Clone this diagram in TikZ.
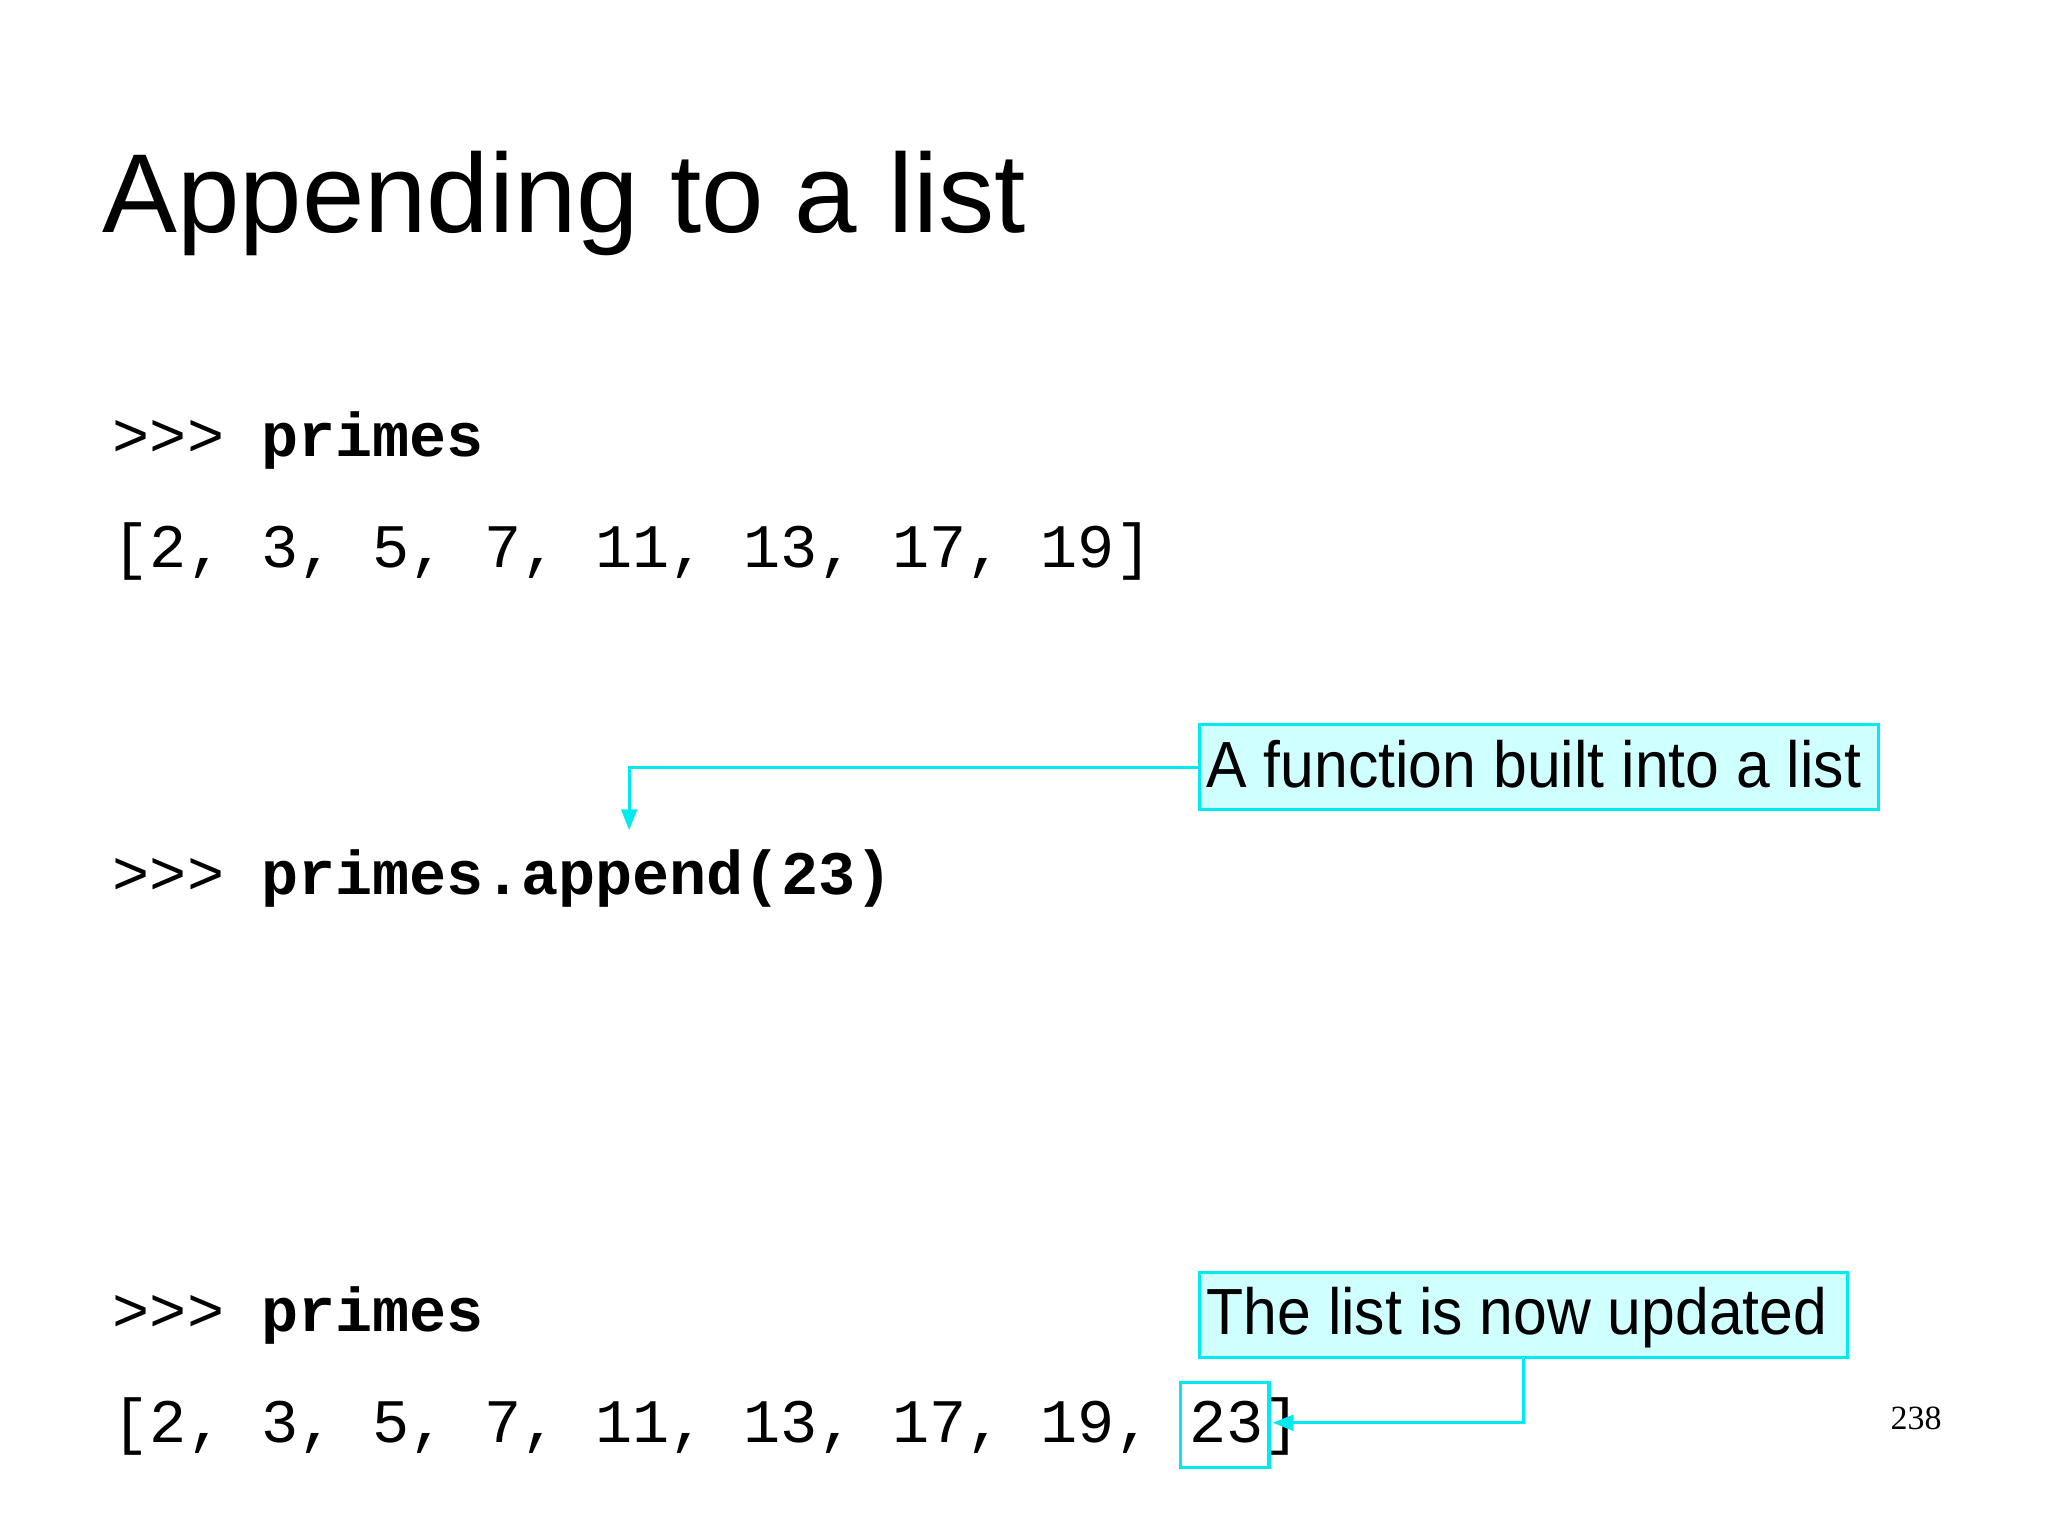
\documentclass[tikz,border=0pt]{standalone}
\usepackage{fontspec}
\setmainfont{Liberation Sans}
\newfontfamily\codefont{Liberation Mono}
\newfontfamily\serifpn{Liberation Serif}
\usetikzlibrary{arrows.meta}
\definecolor{cy}{RGB}{0,235,240}
\definecolor{cyfill}{RGB}{208,255,255}
\tikzset{
 code/.style={anchor=base west,inner sep=0pt,font=\codefont\fontsize{23.7}{26}\selectfont},
 note/.style={draw=cy,line width=1.2pt,fill=cyfill,anchor=north west,inner sep=0pt,minimum height=32.5pt},
 notetext/.style={anchor=base west,inner sep=0pt,font=\fontsize{25}{28}\selectfont},
 conn/.style={draw=cy,line width=1.2pt,-{Triangle[length=8pt,width=6pt]}}
}
\begin{document}
\begin{tikzpicture}[x=0.5pt,y=-0.5pt]
\useasboundingbox (0,0) rectangle (1569,1176);
\node[anchor=base west,inner sep=0pt,font=\fontsize{43}{48}\selectfont] (title) at (78,178) {Appending to a list};
\node[code] (c1) at (86,350) {>{}>{}> \textbf{primes}};
\node[code] (c2) at (86,435) {[2, 3, 5, 7, 11, 13, 17, 19]};
\node[code] (c3) at (86,685) {>{}>{}> \textbf{primes.append(23)}};
\node[code] (c4) at (86,1020) {>{}>{}> \textbf{primes}};
\node[code] (c5) at (86,1105) {[2, 3, 5, 7, 11, 13, 17, 19, 23]};
\node[note,minimum width=260pt] (n1) at (918,554) {};
\node[notetext] (t1) at (924,603) {\scalebox{0.93}[1]{A function built into a list}};
\node[note,minimum width=248pt] (n2) at (918,974) {};
\node[notetext] (t2) at (924,1022) {\scalebox{0.93}[1]{The list is now updated}};
\node[draw=cy,line width=1.2pt,anchor=north west,inner sep=0pt,minimum width=34pt,minimum height=32.5pt] (b23) at (903,1058) {};
\coordinate (a1) at (482,636);
\draw[conn] (n1.west) -| (a1);
\coordinate (a2) at (975,1090);
\draw[conn] (n2.south) |- (a2);
\node[anchor=base,inner sep=0pt,font=\serifpn\fontsize{13}{15}\selectfont] (pn) at (1468,1095) {238};
\end{tikzpicture}
\end{document}
